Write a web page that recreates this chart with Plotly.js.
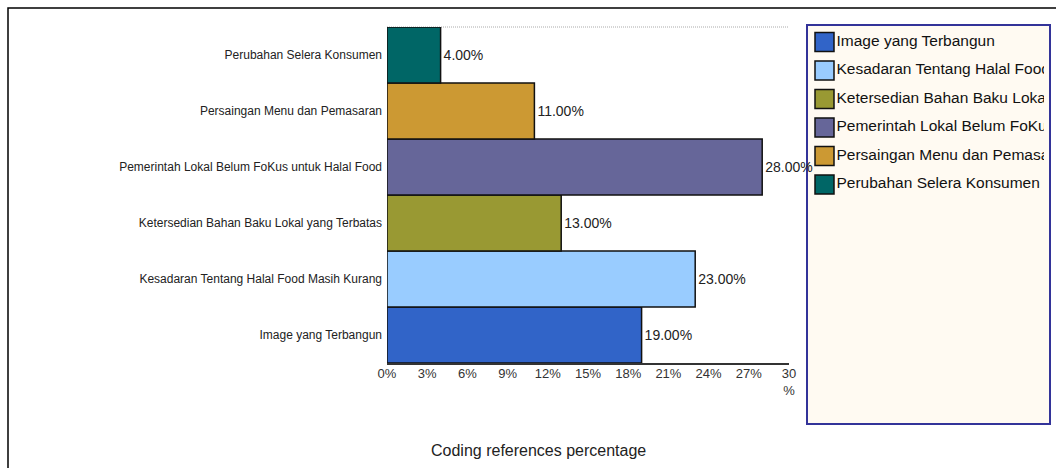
<!DOCTYPE html>
<html>
<head>
<meta charset="utf-8">
<script src="https://cdn.plot.ly/plotly-3.0.1.min.js"></script>
<style>html,body{margin:0;padding:0;background:#fff;}#chart{width:1056px;height:468px;}</style>
</head>
<body>
<div id="chart"></div>
<script>
// Data (bottom to top on the chart, legend order top to bottom)
const categories = [
  "Image yang Terbangun",
  "Kesadaran Tentang Halal Food Masih Kurang",
  "Ketersedian Bahan Baku Lokal yang Terbatas",
  "Pemerintah Lokal Belum FoKus untuk Halal Food",
  "Persaingan Menu dan Pemasaran",
  "Perubahan Selera Konsumen"
];
const values = [19, 23, 13, 28, 11, 4];
const colors = ["#3164C8", "#99CCFF", "#999933", "#666699", "#CC9933", "#006666"];
const tickVals = [0, 3, 6, 9, 12, 15, 18, 21, 24, 27, 30];
const tickText = ["0%", "3%", "6%", "9%", "12%", "15%", "18%", "21%", "24%", "27%", "30<br>%"];
const axisTitle = "Coding references percentage";

const W = 1056, H = 468;
const FONT = "Liberation Sans, Arial, sans-serif";
const px = v => v / W, py = v => 1 - v / H;

const plotL = 387, plotR = 789, plotT = 27, plotB = 363;
const legL = 807, legR = 1050, legT = 25, legB = 424;
const clipR = 1044;

const barTrace = {
  type: "bar",
  orientation: "h",
  y: categories,
  x: values,
  marker: { color: colors, line: { color: "#111", width: 1.5 } },
  texttemplate: "%{x:.2f}%",
  textposition: "outside",
  cliponaxis: false,
  textfont: { family: FONT, size: 14, color: "#222" },
  hoverinfo: "skip",
  showlegend: false,
  xaxis: "x", yaxis: "y"
};

// Legend drawn in its own subplot so long labels are clipped by the box
const rowY = categories.map((_, i) => 42 + 28.5 * i);
const legSwatches = {
  type: "scatter", mode: "markers",
  x: categories.map(() => 824.5), y: rowY,
  marker: { symbol: "square", size: 19, color: colors, line: { color: "#111", width: 1.5 } },
  hoverinfo: "skip", showlegend: false, xaxis: "x2", yaxis: "y2"
};
const legText = {
  type: "scatter", mode: "text",
  x: categories.map(() => 836.5), y: rowY,
  text: categories, textposition: "middle right",
  textfont: { family: FONT, size: 15.5, color: "#111" },
  cliponaxis: true,
  hoverinfo: "skip", showlegend: false, xaxis: "x2", yaxis: "y2"
};

const layout = {
  width: W, height: H,
  margin: { l: 0, r: 0, t: 0, b: 0 },
  paper_bgcolor: "#fff", plot_bgcolor: "rgba(0,0,0,0)",
  bargap: 0,
  showlegend: false,
  font: { family: FONT },
  xaxis: {
    domain: [px(plotL), px(plotR)], range: [0, 30], fixedrange: true,
    tickvals: tickVals, ticktext: tickText,
    tickfont: { family: FONT, size: 13, color: "#333" },
    showgrid: false, zeroline: false,
    showline: true, linecolor: "#333", linewidth: 2, ticks: "",
    ticklabelstandoff: -3,
    anchor: "y"
  },
  yaxis: {
    domain: [py(plotB), py(plotT)], fixedrange: true,
    categoryorder: "array", categoryarray: categories,
    tickfont: { family: FONT, size: 12, color: "#222" },
    showgrid: false, zeroline: false, showline: false, ticks: "",
    ticklabelstandoff: 4,
    anchor: "x"
  },
  xaxis2: {
    domain: [px(legL), px(clipR)], range: [legL, clipR],
    visible: false, fixedrange: true, anchor: "y2"
  },
  yaxis2: {
    domain: [py(legB), py(legT)], range: [legB, legT],
    visible: false, fixedrange: true, anchor: "x2"
  },
  shapes: [
    // outer frame
    { type: "rect", xref: "paper", yref: "paper", x0: px(8), x1: 1.05, y0: py(8), y1: -0.05,
      line: { color: "#000", width: 1.5 }, fillcolor: "rgba(0,0,0,0)", layer: "below" },
    // legend box
    { type: "rect", xref: "paper", yref: "paper", x0: px(legL), x1: px(legR), y0: py(legT), y1: py(legB),
      line: { color: "#333399", width: 2 }, fillcolor: "#FFFAF2", layer: "below" },
    // dotted top border of plot area
    { type: "line", xref: "paper", yref: "paper", x0: px(plotL), x1: px(plotR), y0: py(plotT), y1: py(plotT),
      line: { color: "#aaa", width: 1, dash: "1px,1px" }, layer: "below" }
  ],
  annotations: [
    { text: axisTitle, xref: "paper", yref: "paper", x: px(538), y: py(450),
      xanchor: "center", yanchor: "middle", showarrow: false,
      font: { family: FONT, size: 16, color: "#222" } }
  ]
};

Plotly.newPlot("chart", [barTrace, legSwatches, legText], layout, { displayModeBar: false, staticPlot: true });
</script>
</body>
</html>
